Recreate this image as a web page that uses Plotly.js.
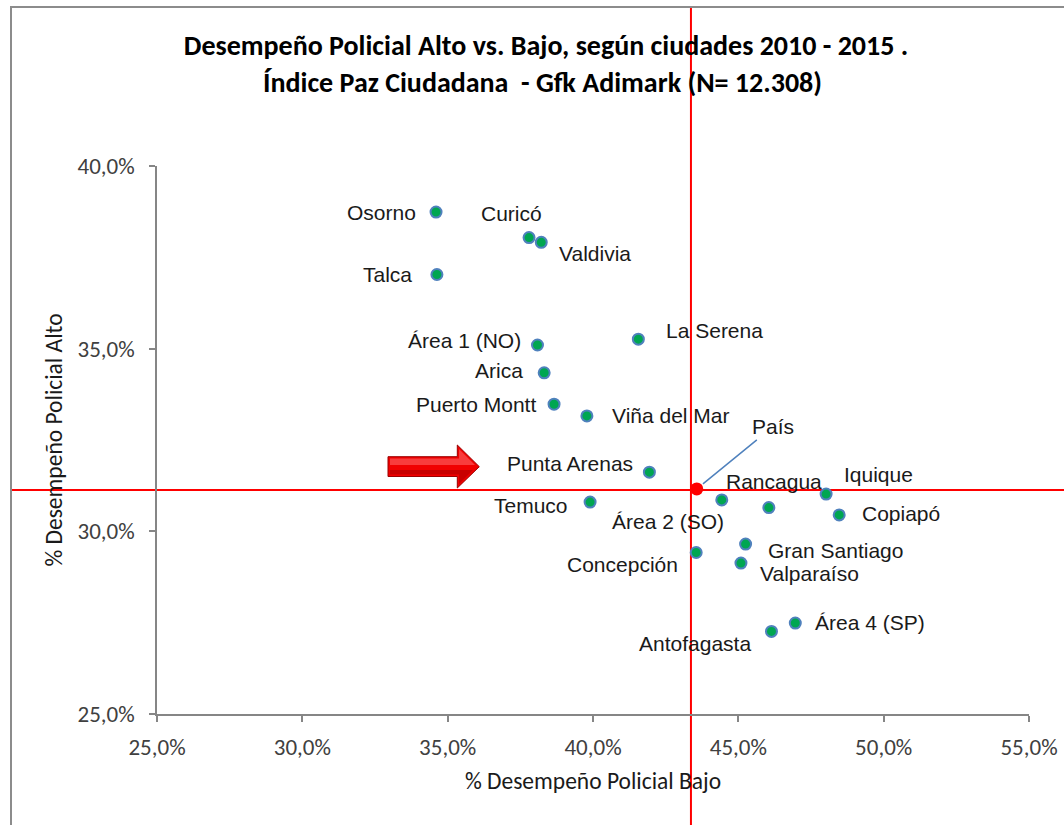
<!DOCTYPE html>
<html>
<head>
<meta charset="utf-8">
<script src="https://cdn.plot.ly/plotly-3.0.1.min.js"></script>
<style>
  html, body { margin: 0; padding: 0; background: #ffffff; }
  #chart { width: 1064px; height: 825px; }
</style>
</head>
<body>
<div id="chart"></div>
<script>
// ---------- DATA ----------
const cities = ["Osorno", "Curicó", "Valdivia", "Talca", "Área 1 (NO)", "Arica", "La Serena",
  "Puerto Montt", "Viña del Mar", "Punta Arenas", "Temuco", "Área 2 (SO)", "Rancagua",
  "Iquique", "Copiapó", "Gran Santiago", "Valparaíso", "Concepción", "Área 4 (SP)", "Antofagasta"];
const bajo = [34.60, 37.80, 38.22, 34.63, 38.09, 38.32, 41.56,
  38.66, 39.79, 41.94, 39.90, 44.43, 46.05,
  48.02, 48.47, 45.25, 45.09, 43.55, 46.96, 46.14];
const alto = [38.74, 38.04, 37.91, 37.03, 35.10, 34.34, 35.26,
  33.48, 33.16, 31.62, 30.80, 30.86, 30.65,
  31.02, 30.45, 29.65, 29.13, 29.42, 27.49, 27.26];
const paisLabel = "País";
const paisBajo = [43.57];
const paisAlto = [31.16];
const refBajo = 43.37;   // vertical reference line
const refAlto = 31.13;   // horizontal reference line
const xTicks = [25, 30, 35, 40, 45, 50, 55];
const yTicks = [25, 30, 35, 40];
const xTickText = ["25,0%", "30,0%", "35,0%", "40,0%", "45,0%", "50,0%", "55,0%"];
const yTickText = ["25,0%", "30,0%", "35,0%", "40,0%"];
const titleLine1 = "Desempeño Policial Alto vs. Bajo, según ciudades 2010 - 2015 .";
const titleLine2 = "Índice Paz Ciudadana  - Gfk Adimark (N= 12.308)";
const xTitle = "% Desempeño Policial Bajo";
const yTitle = "% Desempeño Policial Alto";

// ---------- STYLE (label placement offsets, px) ----------
const labelStyle = {
  "Osorno": ["right", -18, 0],
  "Curicó": ["center", -18, -24],
  "Valdivia": ["left", 16, 10.7],
  "Talca": ["right", -22.7, 0],
  "Área 1 (NO)": ["right", -14.6, -5],
  "Arica": ["right", -19, -2.7],
  "La Serena": ["left", 25.7, -9],
  "Puerto Montt": ["right", -15.7, 0],
  "Viña del Mar": ["left", 22.6, 0],
  "Punta Arenas": ["right", -14.3, -8.7],
  "Temuco": ["right", -20, 3],
  "Área 2 (SO)": ["center", -54, 21.7],
  "Rancagua": ["center", 5.5, -26],
  "Iquique": ["left", 15.7, -20],
  "Copiapó": ["left", 20.7, -1.7],
  "Gran Santiago": ["left", 20.3, 6.4],
  "Valparaíso": ["left", 17.3, 10],
  "Concepción": ["right", -16, 11.6],
  "Área 4 (SP)": ["left", 18, -0.6],
  "Antofagasta": ["right", -18.6, 11.6]
};

const W = 1064, H = 825;
const M = { l: 157, r: 35, t: 166, b: 111 };
const PW = W - M.l - M.r, PH = H - M.t - M.b;
const px2x = p => (p - M.l) / PW;
const px2y = p => (H - M.b - p) / PH;

const labelFont = { family: "Liberation Sans, Arial, sans-serif", size: 21, color: "#1a1a1a" };
const calFont = "Calibri, Carlito, Lato, sans-serif";

const annotations = cities.map((c, i) => {
  const s = labelStyle[c];
  return {
    x: bajo[i], y: alto[i], xref: "x", yref: "y",
    text: c, showarrow: false,
    xanchor: s[0], yanchor: "middle",
    xshift: s[1], yshift: -s[2],
    font: labelFont
  };
});
annotations.push({
  x: paisBajo[0], y: paisAlto[0], xref: "x", yref: "y",
  text: paisLabel, showarrow: true, arrowhead: 0, arrowwidth: 1.5,
  arrowcolor: "#4F81BD", ax: 76, ay: -62, standoff: 8,
  xanchor: "center", yanchor: "middle", font: labelFont
});
annotations.push({
  x: px2x(542), y: px2y(82), xref: "paper", yref: "paper",
  text: "<b>" + titleLine2 + "</b>", showarrow: false,
  xanchor: "center", yanchor: "middle",
  font: { family: calFont, size: 28, color: "#000000" }
});

// arrow decoration (pixel geometry converted to paper coords)
const arrowPts = [[388, 456.7], [457.3, 456.7], [457.3, 445], [479.3, 466.7],
  [457.3, 488], [457.3, 476.5], [388, 476.5]];
const arrowPath = "M" + arrowPts.map(p => px2x(p[0]) + "," + px2y(p[1])).join(" L") + " Z";
const hiPts = [[390, 458.5], [459, 458.5], [459, 449], [475, 465], [390, 465]];
const hiPath = "M" + hiPts.map(p => px2x(p[0]) + "," + px2y(p[1])).join(" L") + " Z";
const shPts = [[390, 470], [473, 470], [459, 484], [459, 474.5], [390, 474.5]];
const shPath = "M" + shPts.map(p => px2x(p[0]) + "," + px2y(p[1])).join(" L") + " Z";

const shapes = [
  { type: "rect", xref: "paper", yref: "paper", x0: px2x(11), x1: px2x(1200),
    y0: px2y(1000), y1: px2y(7), line: { color: "#8c8c8c", width: 2 }, fillcolor: "rgba(0,0,0,0)", layer: "below" },
  { type: "line", xref: "x", yref: "paper", x0: refBajo, x1: refBajo,
    y0: px2y(1000), y1: px2y(8), line: { color: "#FF0000", width: 2 }, layer: "below" },
  { type: "line", xref: "paper", yref: "y", x0: px2x(12), x1: px2x(1200),
    y0: refAlto, y1: refAlto, line: { color: "#FF0000", width: 2 }, layer: "below" },
  { type: "path", xref: "paper", yref: "paper", path: arrowPath,
    fillcolor: "#F00000", line: { color: "#9a0000", width: 1 }, layer: "above" },
  { type: "path", xref: "paper", yref: "paper", path: hiPath,
    fillcolor: "rgba(255,110,110,0.55)", line: { width: 0 }, layer: "above" },
  { type: "path", xref: "paper", yref: "paper", path: shPath,
    fillcolor: "rgba(150,0,0,0.45)", line: { width: 0 }, layer: "above" }
];

const traces = [
  { type: "scatter", mode: "markers", x: bajo, y: alto, text: cities,
    marker: { size: 11, color: "#00A651", line: { color: "#4F81BD", width: 2 } },
    hoverinfo: "text", cliponaxis: false },
  { type: "scatter", mode: "markers", x: paisBajo, y: paisAlto, text: [paisLabel],
    marker: { size: 13, color: "#FF0000", line: { color: "#FF0000", width: 0 } },
    hoverinfo: "text", cliponaxis: false }
];

const axisCommon = {
  showgrid: false, zeroline: false, showline: true, linecolor: "#868686", linewidth: 1.5,
  ticks: "outside", ticklen: 6, tickcolor: "#868686", tickwidth: 1.5,
  tickfont: { family: calFont, size: 23, color: "#404040" }, tickmode: "array"
};

const layout = {
  width: W, height: H,
  margin: M,
  paper_bgcolor: "#ffffff", plot_bgcolor: "#ffffff",
  showlegend: false,
  title: {
    text: "<b>" + titleLine1 + "</b>",
    x: 546 / W, xref: "container", xanchor: "center",
    y: 1 - 45 / H, yref: "container", yanchor: "middle",
    font: { family: calFont, size: 28, color: "#000000" }
  },
  xaxis: Object.assign({}, axisCommon, {
    range: [25, 55], tickvals: xTicks, ticktext: xTickText, ticklabelstandoff: 6,
    title: { text: xTitle, font: { family: calFont, size: 23.5, color: "#1a1a1a" }, standoff: 12 }
  }),
  yaxis: Object.assign({}, axisCommon, {
    range: [25, 40], tickvals: yTicks, ticktext: yTickText, ticklabelstandoff: 10,
    title: { text: yTitle, font: { family: calFont, size: 23.5, color: "#1a1a1a" }, standoff: 8 }
  }),
  annotations: annotations,
  shapes: shapes
};

Plotly.newPlot("chart", traces, layout, { displayModeBar: false, responsive: false });
</script>
</body>
</html>
